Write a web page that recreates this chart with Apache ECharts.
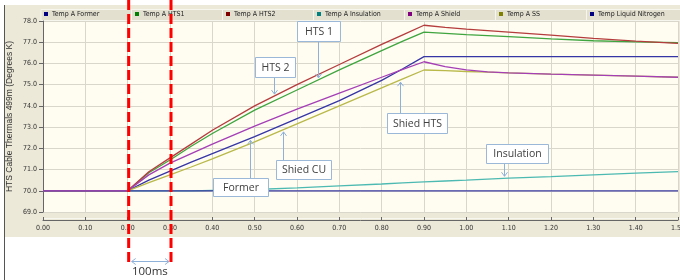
<!DOCTYPE html>
<html><head><meta charset="utf-8">
<script src="https://cdn.jsdelivr.net/npm/echarts@6/dist/echarts.min.js"></script>
<style>html,body{margin:0;padding:0;background:#fff}#c{width:680px;height:280px}</style>
</head><body><div id="c"></div><script>
// ---- data ----
const times        = [0, 0.1, 0.2, 0.25, 0.3, 0.35, 0.4, 0.5, 0.6, 0.7, 0.8, 0.85, 0.9, 0.95, 1.0, 1.05, 1.1, 1.2, 1.3, 1.4, 1.5];
const tempFormer   = [70, 70, 70, 70.5, 70.93, 71.35, 71.75, 72.55, 73.4, 74.25, 75.2, 75.75, 76.32, 76.32, 76.32, 76.32, 76.32, 76.32, 76.32, 76.32, 76.32];
const tempHTS1     = [70, 70, 70, 70.85, 71.45, 72.1, 72.7, 73.8, 74.75, 75.7, 76.6, 77.05, 77.48, 77.42, 77.36, 77.31, 77.26, 77.16, 77.07, 77.02, 76.98];
const tempHTS2     = [70, 70, 70, 70.9, 71.55, 72.2, 72.85, 74.0, 75.0, 75.95, 76.9, 77.35, 77.8, 77.7, 77.62, 77.55, 77.48, 77.33, 77.18, 77.05, 76.95];
const tempInsul    = [70, 70, 70, 70, 70, 70, 70.02, 70.06, 70.14, 70.23, 70.32, 70.37, 70.42, 70.46, 70.5, 70.55, 70.6, 70.67, 70.75, 70.83, 70.9];
const tempShield   = [70, 70, 70, 70.75, 71.3, 71.75, 72.2, 73.05, 73.85, 74.6, 75.35, 75.72, 76.08, 75.85, 75.7, 75.6, 75.56, 75.5, 75.45, 75.4, 75.35];
const tempSS       = [70, 70, 70, 70.38, 70.75, 71.12, 71.5, 72.3, 73.15, 74.0, 74.85, 75.27, 75.69, 75.66, 75.62, 75.59, 75.56, 75.5, 75.45, 75.4, 75.35];
const tempLN2      = [70, 70, 70, 70, 70, 70, 70, 70, 70, 70, 70, 70, 70, 70, 70, 70, 70, 70, 70, 70, 70];
const seriesNames  = ['Temp A Former', 'Temp A HTS1', 'Temp A HTS2', 'Temp A Insulation', 'Temp A Shield', 'Temp A SS', 'Temp Liquid Nitrogen'];
const seriesValues = [tempFormer, tempHTS1, tempHTS2, tempInsul, tempShield, tempSS, tempLN2];
const yAxisTitle   = 'HTS Cable Thermals 499m (Degrees K)';
const markTimes    = [0.2, 0.3];
const spanLabel    = '100ms';
const callouts = [
  {text: 'HTS 1', series: 1, x: 0.65},
  {text: 'HTS 2', series: 2, x: 0.546},
  {text: 'Shied HTS', series: 5, x: 0.843},
  {text: 'Shied CU', series: 5, x: 0.567},
  {text: 'Former', series: 0, x: 0.49},
  {text: 'Insulation', series: 3, x: 1.09}
];

// ---- styles ----
const lineColors   = ['#3535a5', '#3fa53f', '#b53c3c', '#4dbab2', '#a53fb5', '#b9b94a', '#3a3aa0'];
const legendColors = ['#000080', '#008000', '#800000', '#008080', '#800080', '#808000', '#000080'];
const narrow = "'Liberation Sans Narrow','DejaVu Sans Condensed','Liberation Sans',sans-serif";
const boxes = [
  {b: [297, 21, 43, 20], dir: 'down'},
  {b: [255, 57, 40, 20], dir: 'down'},
  {b: [387, 113, 60, 20], dir: 'up'},
  {b: [276, 160, 55, 19], dir: 'up'},
  {b: [213, 178, 55, 18], dir: 'up'},
  {b: [486, 144, 62, 19], dir: 'down'}
];

const chart = echarts.init(document.getElementById('c'), null, {renderer: 'canvas'});

const legends = seriesNames.map((n, i) => ({
  data: [{name: n, itemStyle: {color: legendColors[i]}}],
  left: 44 + 91 * i, top: 10.5, padding: 0,
  icon: 'rect', itemWidth: 4, itemHeight: 4, itemGap: 3,
  selectedMode: false,
  textStyle: {fontSize: 7, color: '#222', fontFamily: narrow, padding: [0, 0, 0, -1]}
}));

const series = seriesValues.map((vals, i) => ({
  name: seriesNames[i], type: 'line', showSymbol: false, symbol: 'none',
  data: times.map((t, k) => [t, vals[k]]),
  lineStyle: {width: 1.3, color: lineColors[i]},
  itemStyle: {color: lineColors[i]},
  z: i === 4 ? 4 : 3,
  animation: false
}));

const option = {
  animation: false,
  backgroundColor: '#ffffff',
  legend: legends,
  grid: {left: 43, right: 2, top: 21, bottom: 68, show: true, backgroundColor: '#FFFCF1', borderWidth: 0, outerBoundsMode: 'none', containLabel: false},
  xAxis: {
    type: 'value', min: 0, max: 1.5, interval: 0.1, offset: 8,
    axisLine: {show: true, lineStyle: {color: '#666', width: 1}},
    axisTick: {show: true, inside: true, length: 3, lineStyle: {color: '#666'}},
    axisLabel: {fontSize: 7, color: '#333', fontFamily: narrow, margin: 5, formatter: v => v.toFixed(2), showMaxLabel: true, hideOverlap: false},
    splitLine: {show: true, lineStyle: {color: '#D9D6CC', width: 1}}
  },
  yAxis: {
    type: 'value', min: 69, max: 78, interval: 1,
    name: yAxisTitle, nameLocation: 'middle', nameRotate: 90, nameGap: 29, nameMoveOverlap: false,
    nameTextStyle: {fontSize: 8.5, color: '#333', fontFamily: "'Liberation Sans',Arial,sans-serif"},
    axisLine: {show: true, lineStyle: {color: '#666', width: 1}},
    axisTick: {show: true, inside: false, length: 4, lineStyle: {color: '#666'}},
    axisLabel: {fontSize: 7, color: '#333', fontFamily: narrow, margin: 6, formatter: v => v.toFixed(1)},
    splitLine: {show: true, lineStyle: {color: '#D9D6CC', width: 1}}
  },
  series: series
};

const bgGraphics = [
  {type: 'rect', shape: {x: 5, y: 5, width: 675, height: 232}, style: {fill: '#ECE9D8'}, z: -10, silent: true},
  {type: 'line', shape: {x1: 4.5, y1: 5, x2: 4.5, y2: 280}, style: {stroke: '#555', lineWidth: 1}, z: -9, silent: true},
  {type: 'rect', shape: {x: 41, y: 9.5, width: 640, height: 11}, style: {fill: '#E3E0D0', stroke: '#F6F5EE', lineWidth: 1}, z: -8, silent: true},
  {type: 'line', shape: {x1: 43, y1: 218.5, x2: 680, y2: 218.5}, style: {stroke: '#F7F6EF', lineWidth: 1}, z: -8, silent: true}
];
for (let i = 1; i < 7; i++) {
  const x = 40.5 + 91 * i;
  bgGraphics.push({type: 'line', shape: {x1: x, y1: 10, x2: x, y2: 20}, style: {stroke: '#F6F5EE', lineWidth: 1}, z: -7, silent: true});
}
option.graphic = bgGraphics;
chart.setOption(option);

function valAt(arr, x) {
  for (let k = 0; k < times.length - 1; k++) {
    if (x >= times[k] && x <= times[k + 1]) {
      const f = (x - times[k]) / (times[k + 1] - times[k]);
      return arr[k] + f * (arr[k + 1] - arr[k]);
    }
  }
  return arr[arr.length - 1];
}
const over = bgGraphics.slice();
const arrowCol = '#8EB1DA';
function arrowHead(tx, ty, dir) {
  const s = dir === 'down' ? -1 : 1;
  return {type: 'polyline', shape: {points: [[tx - 3, ty + s * 4], [tx, ty], [tx + 3, ty + s * 4]]}, style: {stroke: arrowCol, lineWidth: 1, fill: null}, z: 20, silent: true};
}
callouts.forEach((c, i) => {
  const bx = boxes[i];
  const p = chart.convertToPixel({gridIndex: 0}, [c.x, valAt(seriesValues[c.series], c.x)]);
  const tx = Math.round(p[0]) + 0.5;
  const [l, t, w, h] = bx.b;
  let ty, y0;
  if (bx.dir === 'down') { y0 = t + h; ty = p[1] - 2; }
  else { y0 = t; ty = p[1] + 2; }
  over.push({type: 'line', shape: {x1: tx, y1: y0, x2: tx, y2: ty}, style: {stroke: arrowCol, lineWidth: 1}, z: 20, silent: true});
  over.push(arrowHead(tx, ty, bx.dir));
  over.push({type: 'rect', shape: {x: l + 0.5, y: t + 0.5, width: w, height: h}, style: {fill: '#ffffff', stroke: '#9BB8D8', lineWidth: 1}, z: 21, silent: true});
  over.push({type: 'text', style: {text: c.text, x: l + w / 2 + 0.5, y: t + h / 2 + 1, align: 'center', verticalAlign: 'middle', fontSize: 10.5, fill: '#404040', fontFamily: "'Open Sans','Liberation Sans',sans-serif"}, z: 22, silent: true});
});
const mx = markTimes.map(t => chart.convertToPixel({gridIndex: 0}, [t, 70])[0]);
mx.forEach(x => {
  over.push({type: 'line', shape: {x1: x + 1, y1: 0, x2: x + 1, y2: 266}, style: {stroke: '#FF0000', lineWidth: 3, lineDash: [10, 4]}, z: 30, silent: true});
});
const ay = 261.5;
const ax1 = mx[0] + 4, ax2 = mx[1] - 1;
over.push({type: 'line', shape: {x1: ax1, y1: ay, x2: ax2, y2: ay}, style: {stroke: arrowCol, lineWidth: 1}, z: 20, silent: true});
over.push({type: 'polyline', shape: {points: [[ax1 + 4, ay - 3], [ax1, ay], [ax1 + 4, ay + 3]]}, style: {stroke: arrowCol, lineWidth: 1, fill: null}, z: 20, silent: true});
over.push({type: 'polyline', shape: {points: [[ax2 - 4, ay - 3], [ax2, ay], [ax2 - 4, ay + 3]]}, style: {stroke: arrowCol, lineWidth: 1, fill: null}, z: 20, silent: true});
over.push({type: 'text', style: {text: spanLabel, x: (mx[0] + mx[1]) / 2 + 1, y: 271.5, align: 'center', verticalAlign: 'middle', fontSize: 11.5, fill: '#333', fontFamily: "'Open Sans','Liberation Sans',sans-serif"}, z: 22, silent: true});

chart.setOption({graphic: over});
</script></body></html>
